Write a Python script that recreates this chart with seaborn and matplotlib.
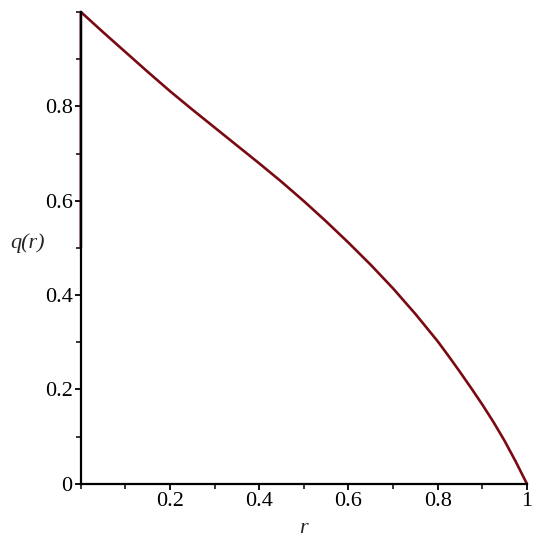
import numpy as np
import pandas as pd
import matplotlib
matplotlib.use("Agg")
import matplotlib.pyplot as plt
import matplotlib.ticker as mticker
import seaborn as sns

# values (vertical jump at r=0, then decay to 0)
r_vals = [0.0, 0.0, 0.05, 0.10, 0.15, 0.20, 0.25, 0.30, 0.35, 0.40, 0.45, 0.50,
          0.55, 0.60, 0.65, 0.70, 0.75, 0.80, 0.825, 0.85, 0.875, 0.90, 0.925, 0.95, 0.975, 1.0]
q_vals = [0.50, 1.0, 0.957, 0.915, 0.873, 0.832, 0.793, 0.755, 0.717, 0.679, 0.640, 0.599,
          0.556, 0.511, 0.464, 0.414, 0.360, 0.302, 0.270, 0.237, 0.203, 0.168, 0.131, 0.091, 0.047, 0.0]

x_ticks = [0.2, 0.4, 0.6, 0.8, 1.0]
x_labels = ["0.2", "0.4", "0.6", "0.8", "1"]
y_ticks = [0.0, 0.2, 0.4, 0.6, 0.8]
y_labels = ["0", "0.2", "0.4", "0.6", "0.8"]

df = pd.DataFrame({"r": r_vals, "q": q_vals})

sns.set_theme(style="ticks")
plt.rcParams["font.family"] = ["Liberation Serif", "DejaVu Serif"]

fig = plt.figure(figsize=(5.5, 5.43), dpi=100)
ax = fig.add_axes([0.147, 0.109, 0.811, 0.869])

sns.lineplot(data=df, x="r", y="q", sort=False, estimator=None,
             color="#7a0a12", linewidth=1.9, ax=ax, clip_on=False)

ax.set_xlim(0, 1)
ax.set_ylim(0, 1)
ax.set_xticks(x_ticks)
ax.set_xticklabels(x_labels)
ax.set_yticks(y_ticks)
ax.set_yticklabels(y_labels)
ax.xaxis.set_minor_locator(mticker.MultipleLocator(0.1))
ax.yaxis.set_minor_locator(mticker.MultipleLocator(0.1))
ax.tick_params(axis="both", which="major", direction="out", length=4, width=1.3,
               labelsize=16, colors="black", pad=2)
ax.tick_params(axis="both", which="minor", direction="out", length=3.5, width=1.3)

for side in ["top", "right"]:
    ax.spines[side].set_visible(False)
for side in ["left", "bottom"]:
    ax.spines[side].set_linewidth(1.6)
    ax.spines[side].set_color("black")

ax.set_xlabel("r", fontsize=16, style="italic", labelpad=6)
ax.set_ylabel("q(r)", fontsize=16, style="italic", rotation=0, ha="center")
ax.yaxis.set_label_coords(-0.119, 0.49)

fig.savefig("out.png", dpi=100)
